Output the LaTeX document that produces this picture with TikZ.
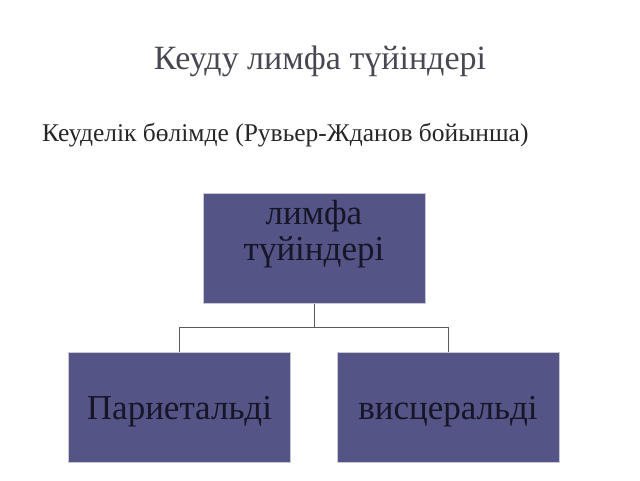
\documentclass[tikz,border=0pt]{standalone}
\usepackage{fontspec}
\setmainfont{Liberation Serif}
\usepackage{xcolor}
\definecolor{boxfill}{RGB}{84,84,134}
\definecolor{boxtext}{RGB}{22,22,40}
\definecolor{titlegray}{RGB}{72,72,82}
\tikzset{
  nodebox/.style={draw={rgb,255:red,200;green,200;blue,210}, line width=1pt, fill=boxfill,
    text=boxtext, minimum width=222pt, minimum height=110pt, inner sep=0pt, align=center, font=\fontsize{35}{36}\selectfont},
  leafbox/.style={nodebox, text height=24pt, text depth=0pt},
  link/.style={draw={rgb,255:red,90;green,90;blue,90}, line width=0.6pt}
}
\begin{document}
\begin{tikzpicture}[x=1pt,y=1pt,yscale=-1,xscale=1]
\useasboundingbox (0,0) rectangle (640,480);

% Text Node
\node (title) [anchor=base, text=titlegray, font=\fontsize{34}{38}\selectfont] at (320,69) {Кеуду лимфа түйіндері};
% Text Node
\node (sub) [anchor=base west, inner sep=0pt, text=black!85, font=\fontsize{25.5}{28}\selectfont] at (42,141) {Кеуделік бөлімде (Рувьер-Жданов бойынша)};

% Boxes
\node (top) [nodebox] at (314,248.5) {лимфа\\түйіндері\\\mbox{}};
\node (par) [leafbox] at (179.5,407) {Париетальді};
\node (vis) [leafbox] at (448,407) {висцеральді};

% Connectors
\coordinate (jn) at (314,327);
\draw [link] (top.south) -- (jn);
\draw [link] (jn) -| (par.north);
\draw [link] (jn) -| (vis.north);
\end{tikzpicture}
\end{document}
